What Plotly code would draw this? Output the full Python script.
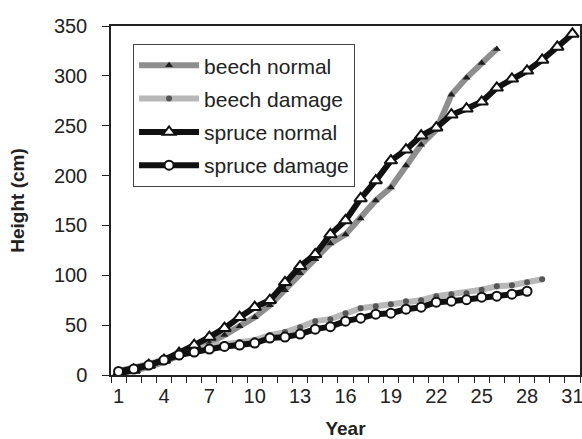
import plotly.graph_objects as go

years = list(range(1, 32))

beech_normal = [1, 4, 8, 13, 19, 25, 32, 40, 49, 58, 70, 85, 102, 116, 132, 141,
                157, 175, 188, 210, 231, 246, 281, 298, 313, 327]
beech_damage = [4, 7, 11, 16, 21, 25, 29, 31, 33, 35, 40, 43, 48, 54, 56, 62,
                67, 69, 71, 74, 75, 79, 81, 82, 85.5, 89, 90, 93, 96]
spruce_normal = [1, 5, 10, 15, 22, 30, 38, 47, 58, 68, 75, 93, 109, 121, 141, 155,
                 177, 195, 215, 226, 240, 248, 261, 267, 274, 288, 297, 305, 316, 329, 342]
spruce_damage = [3.5, 6, 10, 15, 20, 23, 26, 28.6, 30, 32, 37, 38, 41, 46, 48.5, 54,
                 57, 61, 62, 66, 68, 73, 74, 75.5, 78, 79, 81, 84]

x_ticks = [1, 4, 7, 10, 13, 16, 19, 22, 25, 28, 31]
y_ticks = [0, 50, 100, 150, 200, 250, 300, 350]

FONT = "Liberation Sans, Arial, sans-serif"

fig = go.Figure()

fig.add_trace(go.Scatter(
    x=years[:len(beech_normal)], y=beech_normal, name="beech normal",
    mode="lines+markers", legendgroup="a",
    line=dict(color="#8e8e8e", width=6),
    marker=dict(symbol="triangle-up", size=7, color="#1e1e1e",
                line=dict(width=0))))
fig.add_trace(go.Scatter(
    x=years[:len(beech_damage)], y=beech_damage, name="beech damage",
    mode="lines+markers", legendgroup="b",
    line=dict(color="#b8b8b8", width=6),
    marker=dict(symbol="circle", size=6, color="#555555",
                line=dict(width=0))))
fig.add_trace(go.Scatter(
    x=years[:len(spruce_normal)], y=spruce_normal, name="spruce normal",
    mode="lines+markers", legendgroup="c",
    line=dict(color="#111111", width=6),
    marker=dict(symbol="triangle-up", size=11, color="white",
                line=dict(width=2, color="#111111"))))
fig.add_trace(go.Scatter(
    x=years[:len(spruce_damage)], y=spruce_damage, name="spruce damage",
    mode="lines+markers", legendgroup="d",
    line=dict(color="#111111", width=6),
    marker=dict(symbol="circle", size=9, color="white",
                line=dict(width=2, color="#111111"))))

fig.update_layout(
    width=582, height=439,
    margin=dict(l=111, r=2, t=26, b=64),
    paper_bgcolor="white", plot_bgcolor="white",
    font=dict(family=FONT, size=20, color="#222222"),
    showlegend=True,
    legend=dict(
        x=0.047, y=0.948, xanchor="left", yanchor="top",
        bgcolor="white", bordercolor="#444444", borderwidth=1,
        font=dict(family=FONT, size=21, color="#222222"),
        itemwidth=60, tracegroupgap=3, traceorder="grouped",
    ),
    xaxis=dict(
        range=[0.5, 31.5], tickmode="array", tickvals=x_ticks,
        ticktext=[str(v) for v in x_ticks],
        ticks="", showgrid=False, zeroline=False, automargin=False,
        showline=True, linecolor="#222222", linewidth=1.5, mirror=True,
        tickfont=dict(size=20), ticklabelstandoff=2, ticklabeloverflow="allow",
        minor=dict(tick0=0.5, dtick=1, ticks="outside", ticklen=6,
                   tickcolor="#222222", tickwidth=1, showgrid=False),
        title=dict(text="<b>Year</b>", font=dict(size=19), standoff=18),
        fixedrange=True,
    ),
    yaxis=dict(
        range=[0, 350], tickmode="array", tickvals=y_ticks,
        ticks="outside", ticklen=7, tickcolor="#222222", tickwidth=1,
        showgrid=False, zeroline=False, automargin=False,
        showline=True, linecolor="#222222", linewidth=1.5, mirror=True,
        tickfont=dict(size=20), ticklabelstandoff=11, ticklabeloverflow="allow",
        title=dict(text="<b>Height (cm)</b>", font=dict(size=19), standoff=24),
        fixedrange=True,
    ),
)

fig.write_html(
    "out.html",
    config={"displayModeBar": False},
    post_script="document.body.style.margin='0';document.body.style.overflow='hidden';",
)
